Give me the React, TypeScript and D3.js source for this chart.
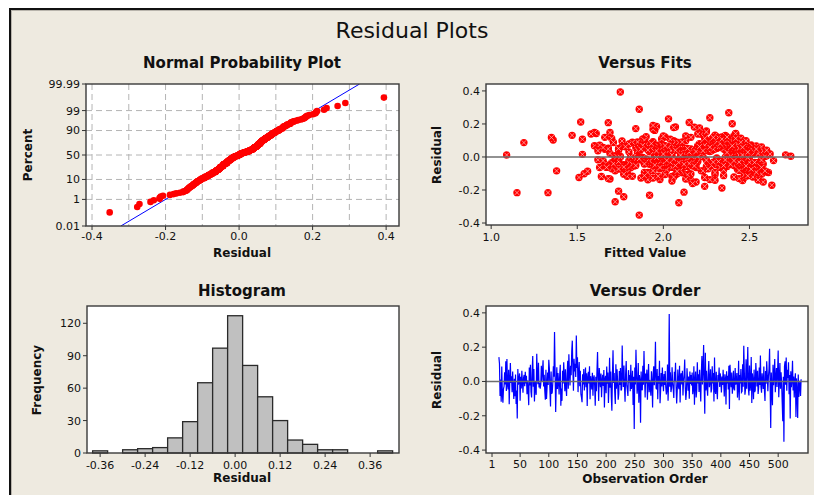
import React from "react";
import * as d3 from "d3";

const W = 814;
const H = 495;
const FONT = "'DejaVu Sans', Verdana, sans-serif";
const BG = "#eeeae0";

// residuals in observation order (obs 13 .. 540)
const residuals = [
  0.142, 0.103, -0.084, 0.012, -0.118, 0.087, -0.072, -0.124, -0.043, -0.028, 0.053, -0.017, 0.118, -0.056, 0.131, -0.022, -0.047, 0.068, -0.133, 0.004, 0.107, -0.009, 0.031, -0.063,
  0.058, -0.034, -0.102, 0.016, -0.086, 0.041, -0.131, -0.052, -0.216, 0.072, -0.019, 0.008, 0.047, -0.112, 0.027, -0.041, 0.063, -0.003, -0.066, 0.021, 0.038, -0.027, 0.056, -0.012,
  0.033, -0.074, 0.006, -0.053, -0.138, 0.081, -0.024, 0.097, -0.061, -0.093, 0.059, 0.148, -0.031, 0.072, -0.117, 0.002, -0.044, -0.078, 0.161, 0.028, -0.016, 0.109, -0.035, -0.008,
  -0.042, -0.018, 0.092, 0.003, 0.061, 0.123, -0.029, 0.039, -0.054, -0.107, 0.068, -0.102, -0.034, 0.052, -0.021, 0.127, 0.077, -0.049, -0.146, 0.058, -0.071, -0.063, -0.004, 0.088,
  0.027, 0.289, 0.057, -0.178, -0.023, 0.083, -0.044, 0.049, 0.001, -0.076, 0.038, 0.098, -0.142, -0.041, -0.113, 0.062, -0.011, 0.112, 0.029, -0.057, 0.071, -0.032, -0.084, 0.043,
  0.121, -0.043, 0.158, 0.052, -0.024, 0.091, 0.037, 0.176, 0.238, 0.068, -0.054, 0.132, 0.059, 0.103, 0.026, 0.268, 0.079, 0.141, -0.062, 0.047, 0.113, -0.028, 0.063, -0.074,
  -0.093, -0.121, 0.042, -0.018, 0.073, -0.052, 0.011, 0.082, -0.033, 0.048, -0.143, 0.019, 0.057, -0.012, 0.089, -0.104, 0.031, -0.002, -0.046, 0.051, -0.083, 0.017, 0.036, -0.024,
  -0.141, 0.028, -0.057, 0.063, 0.172, 0.008, -0.114, 0.079, 0.021, -0.034, 0.046, -0.092, 0.004, 0.039, -0.026, 0.067, -0.152, 0.012, 0.033, -0.068, 0.087, -0.013, 0.052, -0.125,
  -0.019, 0.138, -0.036, 0.058, -0.087, -0.171, 0.043, 0.182, -0.009, 0.049, -0.064, -0.131, 0.101, -0.042, 0.071, 0.003, -0.106, -0.073, 0.061, -0.021, 0.078, -0.053, -0.044, 0.209,
  0.041, -0.032, 0.093, -0.028, -0.118, 0.047, 0.119, -0.023, -0.051, -0.084, 0.066, -0.006, 0.038, -0.057, 0.098, -0.043, -0.014, 0.062, -0.137, 0.027, -0.277, 0.081, -0.018, 0.185,
  0.053, -0.072, -0.031, 0.108, -0.124, 0.037, 0.002, -0.241, 0.058, -0.042, -0.051, 0.092, -0.019, 0.178, 0.026, -0.094, 0.047, -0.011, 0.069, -0.106, 0.018, 0.102, -0.063, 0.009,
  -0.027, -0.083, 0.059, -0.004, -0.152, 0.043, 0.088, -0.022, 0.051, 0.231, -0.038, -0.045, 0.073, -0.103, 0.032, -0.013, 0.121, -0.127, -0.054, 0.049, -0.029, 0.082, 0.001, -0.057,
  0.044, -0.021, 0.061, -0.033, -0.076, -0.048, 0.099, -0.113, 0.003, 0.394, -0.031, 0.054, -0.062, -0.039, 0.083, -0.008, -0.043, -0.096, 0.057, -0.002, 0.109, -0.034, -0.128, -0.052,
  0.069, -0.028, -0.044, 0.091, -0.122, 0.034, 0.048, -0.017, 0.062, -0.081, 0.004, 0.041, 0.128, -0.033, -0.108, -0.063, 0.077, 0.012, -0.054, 0.029, -0.101, 0.058, -0.014, 0.037,
  -0.023, 0.052, -0.074, -0.041, 0.089, -0.136, 0.003, 0.058, -0.093, -0.049, 0.112, -0.012, 0.042, -0.061, 0.068, -0.027, -0.116, 0.051, 0.148, -0.018, 0.079, 0.212, -0.024, -0.188,
  0.168, -0.053, 0.062, -0.029, -0.083, 0.041, 0.119, -0.034, -0.001, 0.071, -0.064, -0.044, 0.088, -0.011, 0.049, -0.117, 0.139, -0.052, -0.073, 0.057, -0.042, -0.104, 0.038, 0.002,
  0.081, -0.032, 0.047, 0.011, -0.064, 0.029, -0.021, 0.068, -0.003, -0.087, 0.042, 0.018, -0.134, 0.059, -0.012, 0.033, -0.047, 0.091, -0.161, 0.098, 0.021, -0.033, 0.052, -0.072,
  -0.027, 0.063, -0.043, -0.052, 0.078, -0.019, -0.001, 0.049, -0.094, -0.041, 0.121, -0.109, 0.038, -0.011, 0.072, -0.063, -0.058, 0.101, -0.031, 0.208, 0.053, -0.077, -0.048, 0.129,
  -0.042, 0.058, 0.201, -0.039, -0.082, 0.093, -0.054, -0.018, 0.142, -0.126, 0.047, 0.004, -0.103, 0.069, -0.061, -0.052, 0.108, 0.041, -0.029, 0.062, -0.073, -0.034, 0.081, -0.021,
  0.152, -0.031, -0.066, 0.048, 0.002, -0.043, 0.087, -0.051, -0.114, 0.061, -0.013, 0.118, 0.039, -0.057, 0.028, 0.073, 0.191, -0.033, -0.271, 0.052, -0.044, -0.139, 0.098, -0.022,
  0.041, 0.131, -0.063, 0.019, 0.079, -0.032, 0.058, 0.181, -0.092, 0.012, 0.108, -0.043, 0.053, -0.004, -0.121, -0.232, 0.027, -0.352, 0.089, 0.118, -0.019, 0.139, -0.054, 0.068,
  0.021, 0.112, -0.074, 0.037, -0.216, 0.059, -0.033, 0.008, 0.121, -0.053, 0.029, -0.094, 0.003, 0.048, -0.207, 0.018, -0.063, -0.213, 0.041, -0.091, -0.022, 0.004, -0.084, 0.013,
];

// fitted values, same order as residuals
const fitted = [
  1.61, 1.36, 1.38, 1.09, 1.64, 1.19, 1.70, 1.51, 1.66, 1.73, 1.68, 1.62, 1.35, 1.71, 1.47, 1.65, 1.77, 1.60, 1.69, 1.75, 1.53, 1.72, 1.80, 1.67,
  1.62, 1.70, 1.54, 1.53, 1.56, 1.74, 1.68, 1.78, 1.15, 1.63, 1.82, 1.72, 1.66, 1.79, 1.85, 1.71, 1.76, 1.88, 1.81, 1.69, 1.93, 1.74, 1.84, 1.90,
  1.86, 1.79, 1.95, 1.83, 1.91, 1.87, 1.98, 1.76, 2.02, 1.89, 1.94, 1.60, 2.05, 1.97, 1.82, 2.01, 1.92, 2.08, 1.95, 1.99, 2.04, 1.88, 2.11, 1.96,
  2.03, 2.10, 1.94, 2.14, 2.06, 1.90, 2.12, 2.00, 2.17, 2.07, 1.97, 2.15, 2.09, 2.20, 2.02, 2.13, 1.99, 2.18, 2.05, 2.22, 2.11, 2.08, 2.16, 2.25,
  2.19, 1.86, 2.21, 2.24, 2.13, 2.27, 2.18, 2.30, 2.23, 2.09, 2.26, 2.32, 2.16, 2.28, 2.35, 2.20, 2.31, 2.24, 2.38, 2.14, 2.29, 2.33, 2.22, 2.36,
  2.31, 2.40, 2.25, 2.37, 2.43, 2.34, 2.28, 2.21, 2.27, 2.41, 2.35, 2.30, 2.44, 2.39, 2.46, 2.38, 2.33, 2.42, 2.48, 2.36, 2.45, 2.40, 2.50, 2.43,
  2.47, 2.52, 2.39, 2.45, 2.51, 2.42, 2.49, 2.44, 2.55, 2.38, 2.46, 2.53, 2.41, 2.48, 2.36, 2.57, 2.43, 2.50, 2.34, 2.47, 2.54, 2.40, 2.44, 2.49,
  2.30, 2.45, 2.37, 2.52, 1.84, 2.41, 2.48, 2.35, 2.56, 2.43, 2.29, 2.51, 2.39, 2.46, 2.33, 2.54, 2.58, 2.44, 2.27, 2.50, 2.36, 2.42, 2.31, 2.47,
  2.38, 2.22, 2.45, 2.32, 2.49, 2.63, 2.26, 2.07, 2.41, 2.35, 2.19, 2.44, 2.28, 2.52, 2.24, 2.37, 2.30, 2.47, 2.21, 2.40, 2.33, 2.18, 2.43, 2.15,
  2.26, 2.12, 2.34, 2.20, 2.05, 2.29, 2.16, 2.39, 2.09, 2.23, 2.01, 2.31, 2.14, 2.25, 2.06, 2.36, 2.18, 2.03, 2.27, 2.10, 2.09, 2.21, 2.13, 1.96,
  2.08, 1.98, 2.17, 2.04, 2.24, 1.93, 2.11, 1.77, 2.00, 2.19, 1.95, 2.07, 2.14, 2.06, 2.02, 1.91, 2.22, 1.97, 2.10, 2.01, 2.15, 1.89, 2.05, 1.99,
  2.12, 1.94, 2.03, 1.88, 2.19, 2.00, 2.09, 1.96, 2.13, 2.03, 1.90, 2.07, 1.99, 2.16, 1.92, 2.05, 2.01, 1.87, 2.11, 1.97, 2.08, 1.93, 2.02, 2.14,
  1.98, 2.06, 1.91, 2.10, 2.02, 1.95, 2.13, 1.89, 2.04, 1.75, 2.08, 1.93, 2.00, 2.15, 1.86, 2.05, 1.97, 2.11, 1.90, 2.03, 1.99, 2.09, 1.94, 2.07,
  2.01, 1.92, 2.12, 1.85, 2.06, 1.97, 2.16, 2.03, 1.88, 2.10, 1.95, 2.07, 2.00, 1.83, 2.14, 1.99, 1.90, 2.05, 2.18, 1.94, 2.08, 1.87, 2.02, 1.96,
  1.80, 1.93, 1.76, 1.89, 1.82, 1.98, 1.73, 1.86, 1.79, 1.95, 1.70, 1.84, 1.91, 1.77, 1.88, 1.81, 1.97, 1.74, 1.69, 1.87, 1.80, 1.52, 1.92, 2.34,
  1.94, 1.83, 1.78, 1.90, 1.72, 1.85, 1.66, 1.80, 1.75, 1.88, 1.63, 1.82, 1.71, 1.86, 1.68, 1.79, 1.58, 1.84, 1.74, 1.65, 1.89, 1.77, 1.62, 1.81,
  1.93, 2.04, 1.87, 2.10, 1.98, 2.15, 2.02, 2.20, 1.96, 2.08, 2.24, 2.00, 2.13, 2.27, 2.06, 2.19, 2.31, 2.11, 2.17, 2.29, 2.22, 2.35, 2.14, 2.26,
  2.32, 2.21, 2.38, 2.28, 2.42, 2.25, 2.36, 2.45, 2.30, 2.40, 2.34, 2.47, 2.23, 2.39, 2.44, 2.33, 2.49, 2.37, 2.29, 1.68, 2.43, 2.35, 2.51, 2.41,
  2.46, 2.38, 2.40, 2.53, 2.44, 2.31, 2.48, 2.36, 2.42, 2.55, 2.45, 2.39, 2.50, 2.34, 2.47, 2.41, 2.28, 2.52, 2.43, 2.37, 2.49, 2.56, 2.33, 2.46,
  2.25, 2.44, 2.51, 2.38, 2.47, 2.54, 2.42, 2.35, 2.49, 2.57, 2.40, 2.32, 2.46, 2.53, 2.37, 2.43, 1.94, 2.50, 1.72, 2.45, 2.39, 2.55, 2.48, 2.41,
  2.52, 2.36, 2.47, 2.56, 2.43, 2.50, 2.39, 2.18, 2.54, 2.46, 2.34, 2.58, 2.44, 2.49, 2.41, 1.92, 2.53, 1.86, 2.45, 2.29, 2.57, 2.20, 2.48, 2.40,
  2.55, 2.42, 2.51, 2.58, 1.33, 2.46, 2.53, 2.60, 2.37, 2.56, 2.49, 2.61, 2.59, 2.54, 1.74, 2.62, 2.57, 2.12, 2.60, 2.60, 2.64, 2.74, 2.59, 2.71,
];
const firstObs = 13;

// histogram
const histMids = [-0.36, -0.32, -0.28, -0.24, -0.2, -0.16, -0.12, -0.08, -0.04, 0, 0.04, 0.08, 0.12, 0.16, 0.2, 0.24, 0.28, 0.32, 0.36, 0.4];
const histCounts = [2, 0, 3, 4, 5, 14, 29, 65, 97, 127, 81, 52, 30, 12, 8, 3, 3, 0, 0, 2];
const binWidth = 0.04;

// ticks
const nppXTicks = [-0.4, -0.2, 0, 0.2, 0.4];
const nppXGrid = [-0.4, -0.3, -0.2, -0.1, 0, 0.1, 0.2, 0.3, 0.4];
const nppYTicks = [0.01, 1, 10, 50, 90, 99, 99.99];
const nppYLabels = ["0.01", "1", "10", "50", "90", "99", "99.99"];
const nppYGrid = [1, 10, 50, 90, 99];
const fitsXTicks = [1.0, 1.5, 2.0, 2.5];
const resTicks = [-0.4, -0.2, 0, 0.2, 0.4];
const histXTicks = [-0.36, -0.24, -0.12, 0, 0.12, 0.24, 0.36];
const histYTicks = [0, 30, 60, 90, 120];
const orderXTicks = [1, 50, 100, 150, 200, 250, 300, 350, 400, 450, 500];

// inverse normal cdf (Acklam)
function probit(p: number): number {
  const a = [-39.69683028665376, 220.9460984245205, -275.9285104469687, 138.357751867269, -30.66479806614716, 2.506628277459239];
  const b = [-54.47609879822406, 161.5858368580409, -155.6989798598866, 66.80131188771972, -13.28068155288572];
  const c = [-0.007784894002430293, -0.3223964580411365, -2.400758277161838, -2.549671627142542, 4.374664141464968, 2.938163982698783];
  const d = [0.007784695709041462, 0.3224671290700398, 2.445134137142996, 3.754408661907416];
  const pl = 0.02425;
  if (p < pl) {
    const q = Math.sqrt(-2 * Math.log(p));
    return (((((c[0] * q + c[1]) * q + c[2]) * q + c[3]) * q + c[4]) * q + c[5]) / ((((d[0] * q + d[1]) * q + d[2]) * q + d[3]) * q + 1);
  }
  if (p > 1 - pl) {
    const q = Math.sqrt(-2 * Math.log(1 - p));
    return -(((((c[0] * q + c[1]) * q + c[2]) * q + c[3]) * q + c[4]) * q + c[5]) / ((((d[0] * q + d[1]) * q + d[2]) * q + d[3]) * q + 1);
  }
  const q = p - 0.5;
  const r = q * q;
  return ((((((a[0] * r + a[1]) * r + a[2]) * r + a[3]) * r + a[4]) * r + a[5]) * q) / (((((b[0] * r + b[1]) * r + b[2]) * r + b[3]) * r + b[4]) * r + 1);
}

type Area = { x0: number; x1: number; y0: number; y1: number };

function Box({ a }: { a: Area }) {
  return <rect x={a.x0} y={a.y0} width={a.x1 - a.x0} height={a.y1 - a.y0} fill="none" stroke="#3a3a3a" strokeWidth={1.4} />;
}

function YTicks({ ys, labels, x }: { ys: number[]; labels: string[]; x: number }) {
  return (
    <g>
      {ys.map((y, i) => (
        <g key={i}>
          <line x1={x - 4} x2={x} y1={y} y2={y} stroke="#333" />
          <text x={x - 6} y={y} dy="0.36em" textAnchor="end" fontSize={11} fontFamily={FONT} fill="#111">
            {labels[i]}
          </text>
        </g>
      ))}
    </g>
  );
}

function XTicks({ xs, labels, y, dy }: { xs: number[]; labels: string[]; y: number; dy: number }) {
  return (
    <g>
      {xs.map((x, i) => (
        <g key={i}>
          <line x1={x} x2={x} y1={y} y2={y + 4} stroke="#333" />
          <text x={x} y={y + dy} textAnchor="middle" fontSize={11} fontFamily={FONT} fill="#111">
            {labels[i]}
          </text>
        </g>
      ))}
    </g>
  );
}

function PanelTitle({ x, y, text }: { x: number; y: number; text: string }) {
  return (
    <text x={x} y={y} textAnchor="middle" fontSize={15} fontWeight="bold" fontFamily={FONT} fill="#111">
      {text}
    </text>
  );
}

function AxisLabel({ x, y, text, rotate }: { x: number; y: number; text: string; rotate?: boolean }) {
  return (
    <text
      transform={rotate ? `translate(${x},${y}) rotate(-90)` : `translate(${x},${y})`}
      textAnchor="middle"
      fontSize={12}
      fontWeight="bold"
      fontFamily={FONT}
      fill="#111"
    >
      {text}
    </text>
  );
}

const f1 = (v: number) => v.toFixed(1);
const f2 = (v: number) => v.toFixed(2);

export default function App() {
  // panel areas
  const A1: Area = { x0: 86, x1: 399, y0: 84, y1: 226 };
  const A2: Area = { x0: 486, x1: 808, y0: 84, y1: 225 };
  const A3: Area = { x0: 87, x1: 399, y0: 306, y1: 453 };
  const A4: Area = { x0: 486, x1: 808, y0: 306, y1: 453 };

  // normal probability plot
  const zMin = probit(0.0001);
  const zMax = probit(0.9999);
  const nx = d3.scaleLinear().domain([-0.4164, 0.435]).range([A1.x0, A1.x1]);
  const nz = d3.scaleLinear().domain([zMin, zMax]).range([A1.y1, A1.y0]);
  const py = (pct: number) => nz(probit(pct / 100));
  const sorted = residuals.slice().sort(d3.ascending);
  const n = sorted.length;
  const mu = d3.mean(residuals) as number;
  const sd = d3.deviation(residuals) as number;

  // versus fits
  const fx = d3.scaleLinear().domain([0.97, 2.84]).range([A2.x0, A2.x1]);
  const fy = d3.scaleLinear().domain([-0.412, 0.442]).range([A2.y1, A2.y0]);

  // histogram
  const hx = d3.scaleLinear().domain([-0.395, 0.437]).range([A3.x0, A3.x1]);
  const hy = d3.scaleLinear().domain([0, 136]).range([A3.y1, A3.y0]);

  // versus order
  const ox = d3.scaleLinear().domain([-9.5, 552]).range([A4.x0, A4.x1]);
  const oy = d3.scaleLinear().domain([-0.417, 0.44]).range([A4.y1, A4.y0]);
  const orderLine = d3
    .line<number>()
    .x((d, i) => ox(firstObs + i))
    .y((d) => oy(d))(residuals) as string;

  return (
    <svg width={W} height={H} style={{ position: "absolute", left: 0, top: 0, display: "block" }}>
      <defs>
        <clipPath id="c1">
          <rect x={A1.x0} y={A1.y0} width={A1.x1 - A1.x0} height={A1.y1 - A1.y0} />
        </clipPath>
      </defs>
      <rect x={0} y={0} width={W} height={H} fill="#fff" />
      <rect x={9} y={8} width={W - 9} height={H - 8} fill={BG} />
      <line x1={9} x2={W} y1={9} y2={9} stroke="#111" strokeWidth={2} />
      <line x1={10} x2={10} y1={8} y2={H} stroke="#111" strokeWidth={2} />
      <line x1={11} x2={W} y1={10.5} y2={10.5} stroke="#b8b4ac" strokeWidth={1} />
      <line x1={11.5} x2={11.5} y1={10} y2={H} stroke="#b8b4ac" strokeWidth={1} />

      <text x={412} y={38} textAnchor="middle" fontSize={22} fontFamily={FONT} fill="#111">
        Residual Plots
      </text>

      {/* Normal Probability Plot */}
      <PanelTitle x={242} y={68} text="Normal Probability Plot" />
      <rect x={A1.x0} y={A1.y0} width={A1.x1 - A1.x0} height={A1.y1 - A1.y0} fill="#fff" />
      {nppXGrid.map((v) => (
        <line key={v} x1={nx(v)} x2={nx(v)} y1={A1.y0} y2={A1.y1} stroke="#b4b4b4" strokeDasharray="6,4" />
      ))}
      {nppYGrid.map((v) => (
        <line key={v} x1={A1.x0} x2={A1.x1} y1={py(v)} y2={py(v)} stroke="#b4b4b4" strokeDasharray="6,4" />
      ))}
      <g clipPath="url(#c1)">
        <line x1={nx(mu + sd * zMin)} y1={nz(zMin)} x2={nx(mu + sd * zMax)} y2={nz(zMax)} stroke="#0000ff" strokeWidth={1} />
        {sorted.map((v, i) => (
          <circle key={i} cx={nx(v)} cy={nz(probit((i + 1 - 0.3) / (n + 0.4)))} r={3.3} fill="#ff0000" />
        ))}
      </g>
      <Box a={A1} />
      <YTicks ys={nppYTicks.map(py)} labels={nppYLabels} x={A1.x0} />
      <XTicks xs={nppXTicks.map(nx)} labels={nppXTicks.map(f1)} y={A1.y1} dy={14} />
      <AxisLabel x={242} y={257} text="Residual" />
      <AxisLabel x={31.5} y={155} text="Percent" rotate />

      {/* Versus Fits */}
      <PanelTitle x={645} y={68} text="Versus Fits" />
      <rect x={A2.x0} y={A2.y0} width={A2.x1 - A2.x0} height={A2.y1 - A2.y0} fill="#fff" />
      {fitted.map((f, i) => (
        <g key={i} transform={`translate(${fx(f)},${fy(residuals[i])})`}>
          <circle r={3.7} fill="#ff0000" />
          <path d="M-2.3,-2.3L2.3,2.3M-2.3,2.3L2.3,-2.3" stroke="#ffc4c4" strokeWidth={0.7} />
        </g>
      ))}
      <line x1={A2.x0} x2={A2.x1} y1={fy(0)} y2={fy(0)} stroke="#6e6e6e" strokeWidth={1.5} />
      <Box a={A2} />
      <YTicks ys={resTicks.map(fy)} labels={resTicks.map(f1)} x={A2.x0} />
      <XTicks xs={fitsXTicks.map(fx)} labels={fitsXTicks.map(f1)} y={A2.y1} dy={16} />
      <AxisLabel x={645} y={257} text="Fitted Value" />
      <AxisLabel x={440.5} y={155} text="Residual" rotate />

      {/* Histogram */}
      <PanelTitle x={242} y={296} text="Histogram" />
      <rect x={A3.x0} y={A3.y0} width={A3.x1 - A3.x0} height={A3.y1 - A3.y0} fill="#fff" />
      {histMids.map((m, i) =>
        histCounts[i] > 0 ? (
          <rect
            key={i}
            x={hx(m - binWidth / 2)}
            y={hy(histCounts[i])}
            width={hx(m + binWidth / 2) - hx(m - binWidth / 2)}
            height={hy(0) - hy(histCounts[i])}
            fill="#c0c0c0"
            stroke="#2a2a2a"
            strokeWidth={1.3}
          />
        ) : null
      )}
      <Box a={A3} />
      <YTicks ys={histYTicks.map(hy)} labels={histYTicks.map(String)} x={A3.x0} />
      <XTicks xs={histXTicks.map(hx)} labels={histXTicks.map(f2)} y={A3.y1} dy={16} />
      <AxisLabel x={242} y={482} text="Residual" />
      <AxisLabel x={40.5} y={380} text="Frequency" rotate />

      {/* Versus Order */}
      <PanelTitle x={645} y={296} text="Versus Order" />
      <rect x={A4.x0} y={A4.y0} width={A4.x1 - A4.x0} height={A4.y1 - A4.y0} fill="#fff" />
      <path d={orderLine} fill="none" stroke="#0000ff" strokeWidth={1.2} />
      <line x1={A4.x0} x2={A4.x1} y1={oy(0)} y2={oy(0)} stroke="#6e6e6e" strokeWidth={1.5} />
      <Box a={A4} />
      <YTicks ys={resTicks.map(oy)} labels={resTicks.map(f1)} x={A4.x0} />
      <XTicks xs={orderXTicks.map(ox)} labels={orderXTicks.map(String)} y={A4.y1} dy={15} />
      <AxisLabel x={645} y={483} text="Observation Order" />
      <AxisLabel x={440.5} y={380} text="Residual" rotate />
    </svg>
  );
}
